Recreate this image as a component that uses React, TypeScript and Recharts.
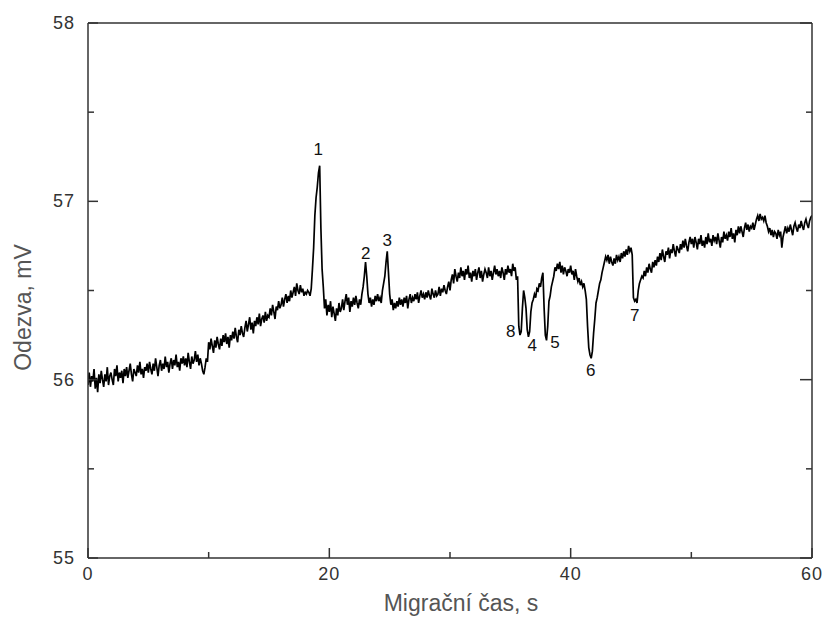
import React from 'react';
import { ComposedChart, Line, Scatter, XAxis, YAxis } from 'recharts';

// Sampling step of the trace, seconds
const STEP = 0.1;

// Detector response (mV), one value per 0.1 s from 0 s to 60 s (rows = 1 s)
const response: number[] = [
  55.97, 56.04, 55.96, 56.02, 55.99, 56.06, 55.95, 56.01, 55.93, 56.03,
  55.98, 56.05, 56.0, 55.96, 56.03, 55.99, 56.07, 55.97, 56.02, 56.04,
  56.0, 55.97, 56.06, 56.02, 56.08, 55.99, 56.04, 56.01, 56.05, 55.98,
  56.06, 56.02, 56.07, 56.01, 56.05, 56.09, 56.03, 55.99, 56.06, 56.04,
  56.02, 56.08, 56.04, 56.1, 56.03, 56.06, 56.01, 56.07, 56.05, 56.09,
  56.04, 56.1, 56.06, 56.03, 56.09, 56.05, 56.12, 56.07, 56.02, 56.08,
  56.11, 56.05, 56.09, 56.06, 56.13, 56.07, 56.1, 56.04, 56.09, 56.12,
  56.06, 56.11, 56.08, 56.14, 56.07, 56.1, 56.05, 56.12, 56.09, 56.13,
  56.08, 56.12, 56.07, 56.15, 56.1, 56.06, 56.13, 56.09, 56.11, 56.16,
  56.1, 56.14, 56.08, 56.12, 56.09, 56.05, 56.03, 56.07, 56.12, 56.1,
  56.21, 56.17, 56.23, 56.19, 56.15, 56.22, 56.18, 56.24, 56.2, 56.17,
  56.23, 56.19, 56.25, 56.21, 56.26, 56.2, 56.24, 56.18, 56.25, 56.22,
  56.27, 56.23, 56.29, 56.24, 56.21, 56.28, 56.25, 56.3, 56.26, 56.24,
  56.29, 56.33, 56.27, 56.31, 56.35, 56.28, 56.32, 56.26, 56.33, 56.3,
  56.35, 56.31, 56.37, 56.3, 56.34, 56.36, 56.32, 56.38, 56.33, 56.36,
  56.35, 56.4, 56.36, 56.42, 56.38, 56.34, 56.41, 56.39, 56.44, 56.4,
  56.42, 56.46, 56.41, 56.45, 56.48, 56.43, 56.47, 56.44, 56.5, 56.46,
  56.49, 56.52, 56.47, 56.54, 56.5, 56.48, 56.53, 56.49, 56.51, 56.47,
  56.49, 56.48, 56.5, 56.49, 56.47, 56.51, 56.62, 56.74, 56.92, 57.02,
  57.08, 57.16, 57.2, 56.85, 56.62, 56.52, 56.4, 56.45, 56.36, 56.42,
  56.38, 56.44, 56.35, 56.41, 56.37, 56.33, 56.4, 56.36, 56.43, 56.38,
  56.4, 56.45, 56.39, 56.44, 56.48, 56.42, 56.46, 56.38, 56.44, 56.41,
  56.46, 56.42, 56.47, 56.43, 56.4, 56.45, 56.42, 56.48, 56.52, 56.58,
  56.66, 56.58, 56.48, 56.43, 56.46, 56.41, 56.45, 56.42, 56.47, 56.44,
  56.48, 56.44, 56.46, 56.43, 56.5, 56.54, 56.58, 56.66, 56.72, 56.6,
  56.48, 56.42, 56.45, 56.39, 56.43, 56.4, 56.44, 56.41, 56.46, 56.42,
  56.45, 56.41, 56.46, 56.43, 56.47, 56.4, 56.45, 56.48, 56.43, 56.46,
  56.44, 56.48, 56.45, 56.49, 56.43, 56.47, 56.5, 56.46, 56.48, 56.45,
  56.49, 56.46, 56.5, 56.47, 56.45, 56.51, 56.48, 56.46, 56.5, 56.47,
  56.48, 56.52, 56.47, 56.51, 56.49, 56.53, 56.5, 56.48, 56.52, 56.55,
  56.5, 56.56, 56.59, 56.54, 56.62, 56.58, 56.55, 56.6, 56.57, 56.63,
  56.58, 56.61, 56.56, 56.62, 56.59, 56.64, 56.57, 56.6, 56.55, 56.61,
  56.58, 56.62, 56.56, 56.6, 56.63, 56.57, 56.61, 56.55, 56.59, 56.62,
  56.6, 56.57, 56.63, 56.58, 56.61, 56.56, 56.6, 56.64, 56.59, 56.62,
  56.58, 56.61, 56.57, 56.63, 56.6, 56.56, 56.62, 56.59, 56.64, 56.6,
  56.62, 56.58, 56.65, 56.61, 56.63, 56.56, 56.58, 56.3, 56.25, 56.27,
  56.4, 56.5, 56.46, 56.4, 56.28, 56.24, 56.27, 56.38, 56.43, 56.45,
  56.48, 56.46, 56.51, 56.5, 56.54, 56.52, 56.57, 56.6, 56.4, 56.25,
  56.22, 56.3, 56.44, 56.47, 56.52, 56.55, 56.58, 56.63, 56.61, 56.65,
  56.62, 56.66, 56.6, 56.64, 56.59, 56.63, 56.61, 56.58, 56.62, 56.6,
  56.64, 56.59, 56.61, 56.56, 56.62, 56.58, 56.55, 56.57, 56.53, 56.55,
  56.52, 56.54, 56.5, 56.45, 56.3, 56.18, 56.14, 56.12, 56.16, 56.26,
  56.34, 56.43, 56.46, 56.5, 56.54, 56.56, 56.6, 56.63, 56.66, 56.69,
  56.67, 56.7, 56.65, 56.69, 56.66, 56.64, 56.68, 56.65, 56.7, 56.67,
  56.69, 56.66, 56.71, 56.68, 56.72, 56.69, 56.73, 56.7, 56.75, 56.72,
  56.74, 56.7, 56.46, 56.44, 56.45, 56.43, 56.5, 56.54, 56.56, 56.58,
  56.57, 56.61, 56.58, 56.63, 56.6, 56.65, 56.62, 56.6, 56.66, 56.63,
  56.67, 56.64, 56.69, 56.66, 56.71, 56.67, 56.73, 56.69, 56.66, 56.72,
  56.7, 56.74, 56.68, 56.73, 56.71, 56.76, 56.72, 56.69, 56.75, 56.73,
  56.71, 56.76, 56.73, 56.78, 56.74, 56.79, 56.75, 56.72, 56.77, 56.8,
  56.76, 56.79, 56.74, 56.8, 56.77, 56.73, 56.79, 56.76, 56.81, 56.75,
  56.78, 56.74, 56.8, 56.76, 56.82, 56.77, 56.79, 56.75, 56.81, 56.78,
  56.8, 56.76, 56.82, 56.78, 56.74, 56.8, 56.77, 56.83, 56.79, 56.81,
  56.78, 56.83, 56.8, 56.85, 56.79, 56.82, 56.77, 56.84, 56.81, 56.86,
  56.82, 56.86, 56.83, 56.8, 56.85, 56.88, 56.84, 56.87, 56.83, 56.86,
  56.85, 56.88, 56.84, 56.87, 56.9, 56.92, 56.89, 56.93, 56.9, 56.91,
  56.89, 56.92, 56.88, 56.86, 56.83, 56.85, 56.81, 56.84, 56.8, 56.83,
  56.82, 56.79, 56.84, 56.81, 56.83, 56.74, 56.8, 56.83, 56.86, 56.82,
  56.85, 56.83, 56.87, 56.84, 56.81, 56.86, 56.88, 56.85, 56.83, 56.87,
  56.85, 56.89, 56.86, 56.84, 56.88, 56.9, 56.87, 56.85, 56.89, 56.91,
  56.92,
];

// Peak annotations
const peakLabels: string[] = ['1', '2', '3', '8', '4', '5', '6', '7'];
const peakTimes: number[] = [19.09, 23.01, 24.8, 35.03, 36.82, 38.7, 41.66, 45.31];
const peakValues: number[] = [57.29, 56.71, 56.78, 56.27, 56.19, 56.21, 56.05, 56.36];

// Axes
const xTicks: number[] = [0, 10, 20, 30, 40, 50, 60];
const xLabelled: number[] = [0, 20, 40, 60];
const yTicks: number[] = [55, 55.5, 56, 56.5, 57, 57.5, 58];
const yLabelled: number[] = [55, 56, 57, 58];

const data = response.map((v, i) => ({ t: +(i * STEP).toFixed(1), v }));
const peaks = peakLabels.map((label, i) => ({ t: peakTimes[i], v: peakValues[i], label }));

const AXIS = '#333';
const TICK_FONT = '"Liberation Sans", Arial, sans-serif';

const BottomTick = (props: any) => {
  const { x, y, payload } = props;
  const major = xLabelled.includes(payload.value);
  return (
    <g>
      <line x1={x} x2={x} y1={y} y2={y - (major ? 10 : 6)} stroke={AXIS} strokeWidth={1.5} />
      {major && (
        <text x={x} y={y + 22} textAnchor="middle" fontSize={18} fill="#333" fontFamily={TICK_FONT} letterSpacing={1}>
          {payload.value}
        </text>
      )}
    </g>
  );
};

const LeftTick = (props: any) => {
  const { x, y, payload } = props;
  const major = yLabelled.includes(payload.value);
  return (
    <g>
      <line x1={x} x2={x + (major ? 10 : 6)} y1={y} y2={y} stroke={AXIS} strokeWidth={1.5} />
      {major && (
        <text x={x - 13} y={y} textAnchor="end" dominantBaseline="central" fontSize={18} fill="#333" fontFamily={TICK_FONT} letterSpacing={1}>
          {payload.value}
        </text>
      )}
    </g>
  );
};

const RightTick = (props: any) => {
  const { x, y, payload } = props;
  const major = yLabelled.includes(payload.value);
  return <line x1={x} x2={x - (major ? 12 : 6)} y1={y} y2={y} stroke={AXIS} strokeWidth={1.5} />;
};

const PeakLabel = (props: any) => {
  const { cx, cy, payload } = props;
  return (
    <text x={cx} y={cy} textAnchor="middle" dominantBaseline="central" fontSize={17} fill="#111" fontFamily={TICK_FONT}>
      {payload.label}
    </text>
  );
};

const XTitle = (props: any) => {
  const vb = props.viewBox;
  return (
    <text x={vb.x + vb.width / 2 + 11} y={vb.y + 45} textAnchor="middle" dominantBaseline="central" fontSize={23} fill="#555" fontFamily={TICK_FONT}>
      Migrační čas, s
    </text>
  );
};

const YTitle = (props: any) => {
  const vb = props.viewBox;
  const cx = 23;
  const cy = vb.y + vb.height / 2 + 17;
  return (
    <text x={cx} y={cy} textAnchor="middle" dominantBaseline="central" fontSize={23} fill="#555" fontFamily={TICK_FONT} transform={`rotate(-90 ${cx} ${cy})`}>
      Odezva, mV
    </text>
  );
};

export default function App() {
  return (
    <div style={{ position: 'absolute', left: 0, top: 0, background: '#fff' }}>
      <ComposedChart width={826} height={632} data={data} margin={{ top: 0, right: 0, bottom: 0, left: 0 }}>
        <XAxis
          xAxisId="b"
          dataKey="t"
          type="number"
          domain={[0, 60]}
          ticks={xTicks}
          orientation="bottom"
          height={74}
          tickSize={0}
          tickMargin={0}
          tickLine={false}
          tick={<BottomTick />}
          axisLine={{ stroke: AXIS, strokeWidth: 1.5 }}
          allowDataOverflow
          interval={0}
          label={<XTitle />}
        />
        <XAxis
          xAxisId="t"
          dataKey="t"
          type="number"
          domain={[0, 60]}
          ticks={xTicks}
          orientation="top"
          height={23}
          tick={false}
          tickLine={false}
          axisLine={{ stroke: AXIS, strokeWidth: 1.5 }}
          allowDataOverflow
        />
        <YAxis
          yAxisId="l"
          type="number"
          domain={[55, 58]}
          ticks={yTicks}
          orientation="left"
          width={88}
          tickSize={0}
          tickMargin={0}
          tickLine={false}
          tick={<LeftTick />}
          axisLine={{ stroke: AXIS, strokeWidth: 1.5 }}
          allowDataOverflow
          interval={0}
          label={<YTitle />}
        />
        <YAxis
          yAxisId="r"
          type="number"
          domain={[55, 58]}
          ticks={yTicks}
          orientation="right"
          width={14}
          tickSize={0}
          tickMargin={0}
          tickLine={false}
          tick={<RightTick />}
          axisLine={{ stroke: AXIS, strokeWidth: 1.5 }}
          allowDataOverflow
          interval={0}
        />
        <Line
          xAxisId="b"
          yAxisId="l"
          dataKey="v"
          type="linear"
          stroke="#000"
          strokeWidth={1.7}
          dot={false}
          isAnimationActive={false}
        />
        <Scatter
          xAxisId="b"
          yAxisId="l"
          data={peaks}
          dataKey="v"
          shape={<PeakLabel />}
          isAnimationActive={false}
        />
      </ComposedChart>
    </div>
  );
}
